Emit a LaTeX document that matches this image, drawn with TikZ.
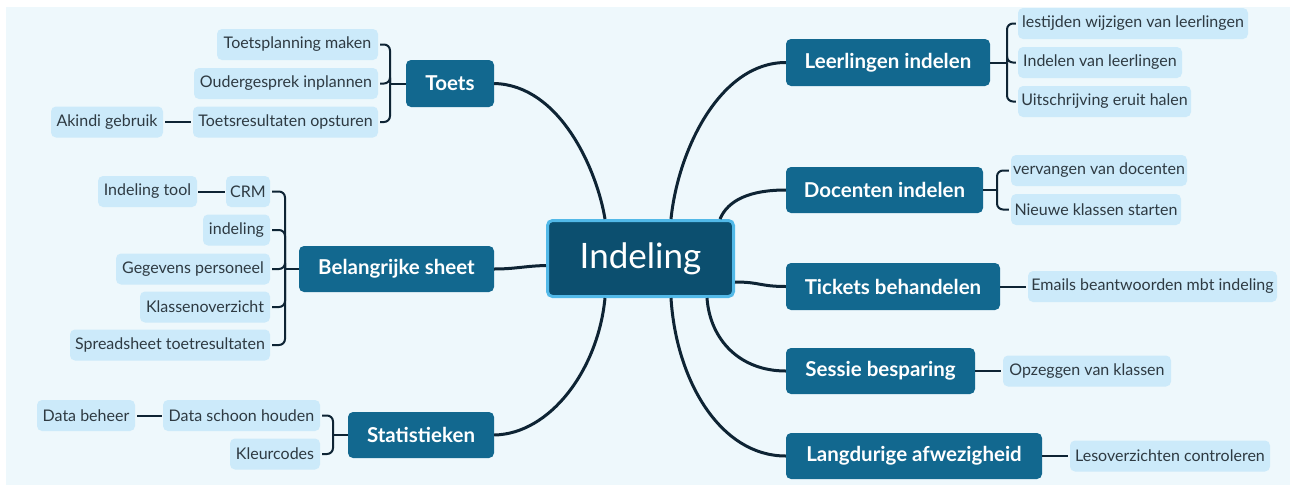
\documentclass[tikz,border=0pt]{standalone}
\usepackage{fontspec}
\setmainfont{Lato}
\usetikzlibrary{calc}
\definecolor{bgcol}{HTML}{EEF8FC}
\definecolor{subfill}{HTML}{CCEAFA}
\definecolor{subtext}{HTML}{2E3A42}
\definecolor{branchfill}{HTML}{12688F}
\definecolor{rootfill}{HTML}{0C4F6F}
\definecolor{rootborder}{HTML}{52B9E8}
\definecolor{linecol}{HTML}{0E2434}
\begin{document}
\begin{tikzpicture}[x=1pt,y=-1pt,
 subnode/.style={fill=subfill, rounded corners=5pt, minimum height=31pt, inner sep=0pt, text=subtext, font=\fontsize{16}{18}\selectfont},
 branch/.style={fill=branchfill, rounded corners=5pt, minimum height=47pt, inner sep=0pt, text=white, font=\bfseries\fontsize{20.5}{24}\selectfont},
 root/.style={fill=rootfill, draw=rootborder, line width=3pt, rounded corners=5pt, minimum width=186pt, minimum height=76pt, inner sep=0pt, text=white, font=\fontsize{35}{40}\selectfont},
 mainline/.style={draw=linecol, line width=3pt},
 subline/.style={draw=linecol, line width=2pt},
 bracket/.style={subline, rounded corners=6pt}
]
\useasboundingbox (0,0) rectangle (1290,485);
\fill[white] (0,0) rectangle (1290,485);
\fill[bgcol] (6,7) rectangle (1290,485);

% root
\node[root] (c) at (640.5,258.5) {Indeling};

% left branches
\node[branch, minimum width=88pt] (toets) at (450,83.5) {Toets};
\node[subnode, minimum width=161pt] (t1) at (297.5,44.5) {Toetsplanning maken};
\node[subnode, minimum width=184pt] (t2) at (286,83.5) {Oudergesprek inplannen};
\node[subnode, minimum width=185pt] (t3) at (285.5,122) {Toetsresultaten opsturen};
\node[subnode, minimum width=112pt] (t4) at (107,122) {Akindi gebruik};

\node[branch, minimum width=195pt, minimum height=46pt] (bs) at (396.5,269) {Belangrijke sheet};
\node[subnode, minimum width=44pt] (b1) at (248,191.5) {CRM};
\node[subnode, minimum width=99pt] (b1a) at (147.5,191.5) {Indeling tool};
\node[subnode, minimum width=67pt] (b2) at (236.5,230) {indeling};
\node[subnode, minimum width=154pt] (b3) at (193,269) {Gegevens personeel};
\node[subnode, minimum width=130pt] (b4) at (205,307) {Klassenoverzicht};
\node[subnode, minimum width=200pt] (b5) at (170,345) {Spreadsheet toetresultaten};

\node[branch, minimum width=146pt, minimum height=46pt] (st) at (421,435) {Statistieken};
\node[subnode, minimum width=157pt] (s1) at (241.5,415.5) {Data schoon houden};
\node[subnode, minimum width=98pt] (s1a) at (86,415.5) {Data beheer};
\node[subnode, minimum width=90pt] (s2) at (275,454) {Kleurcodes};

% right branches
\node[branch, minimum width=204pt] (le) at (888,62.5) {Leerlingen indelen};
\node[subnode, minimum width=230pt] (l1) at (1133,23.5) {lestijden wijzigen van leerlingen};
\node[subnode, minimum width=164pt] (l2) at (1100,62.5) {Indelen van leerlingen};
\node[subnode, minimum width=173pt] (l3) at (1104.5,101.5) {Uitschrijving eruit halen};

\node[branch, minimum width=197pt, minimum height=46pt] (do) at (884.5,190) {Docenten indelen};
\node[subnode, minimum width=176pt] (d1) at (1099,170.5) {vervangen van docenten};
\node[subnode, minimum width=170pt] (d2) at (1096,209.5) {Nieuwe klassen starten};

\node[branch, minimum width=214pt] (ti) at (893,286.5) {Tickets behandelen};
\node[subnode, minimum width=249pt] (ti1) at (1152.5,286.5) {Emails beantwoorden mbt indeling};

\node[branch, minimum width=189pt, minimum height=46pt] (se) at (880.5,371) {Sessie besparing};
\node[subnode, minimum width=168pt] (se1) at (1087,371) {Opzeggen van klassen};

\node[branch, minimum width=256pt, minimum height=46pt] (la) at (914,456) {Langdurige afwezigheid};
\node[subnode, minimum width=200pt] (la1) at (1170,456) {Lesoverzichten controleren};

% main connectors
\draw[mainline] (toets.east) .. controls (560,85) and (597,170) .. ([xshift=-35.5pt]c.north);
\draw[mainline] (bs.east) .. controls (515,269) and (525,266) .. ([yshift=-7pt]c.west);
\draw[mainline] (st.east) .. controls (550,434) and (598,370) .. ([xshift=-35.5pt]c.south);
\draw[mainline] ([xshift=30.5pt]c.north) .. controls (678,150) and (720,62.5) .. (le.west);
\draw[mainline] ([xshift=79.5pt]c.north) .. controls (728,200) and (750,190) .. (do.west);
\draw[mainline] ([yshift=-23.5pt]c.east) .. controls (760,282) and (760,286.5) .. (ti.west);
\draw[mainline] ([xshift=66.5pt]c.south) .. controls (710,340) and (740,371) .. (se.west);
\draw[mainline] ([xshift=30.5pt]c.south) .. controls (676,380) and (720,456) .. (la.west);

% brackets left
\coordinate (jt) at (390,83.5);
\draw[subline] (toets.west) -- (jt);
\foreach \n in {t1,t2,t3} \draw[bracket] (jt) |- ([xshift=2pt]\n.east);
\draw[subline] ([xshift=-2pt]t3.west) -- ([xshift=2pt]t4.east);

\coordinate (jb) at (285,269);
\draw[subline] (bs.west) -- (jb);
\foreach \n in {b1,b2,b3,b4,b5} \draw[bracket] (jb) |- ([xshift=2pt]\n.east);
\draw[subline] ([xshift=-1pt]b1.west) -- ([xshift=1pt]b1a.east);

\coordinate (js) at (333,435);
\draw[subline] (st.west) -- (js);
\foreach \n in {s1,s2} \draw[bracket] (js) |- ([xshift=2pt]\n.east);
\draw[subline] ([xshift=-1pt]s1.west) -- ([xshift=2pt]s1a.east);

% brackets right
\coordinate (jl) at (1007,62.5);
\draw[subline] (le.east) -- (jl);
\foreach \n in {l1,l2,l3} \draw[bracket] (jl) |- ([xshift=-2pt]\n.west);

\coordinate (jd) at (997,190);
\draw[subline] (do.east) -- (jd);
\foreach \n in {d1,d2} \draw[bracket] (jd) |- ([xshift=-2pt]\n.west);

\draw[subline] (ti.east) -- ([xshift=-2pt]ti1.west);
\draw[subline] (se.east) -- ([xshift=-2pt]se1.west);
\draw[subline] (la.east) -- ([xshift=-2pt]la1.west);
\end{tikzpicture}
\end{document}
